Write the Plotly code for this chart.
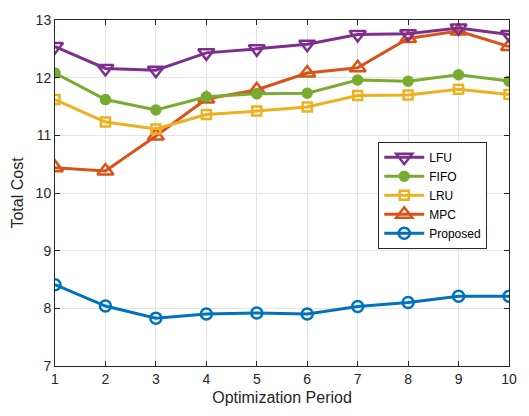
import plotly.graph_objects as go

periods = [1, 2, 3, 4, 5, 6, 7, 8, 9, 10]
lfu = [12.54, 12.16, 12.13, 12.43, 12.50, 12.58, 12.75, 12.76, 12.86, 12.75]
fifo = [12.08, 11.62, 11.44, 11.67, 11.72, 11.73, 11.96, 11.94, 12.05, 11.94]
lru = [11.62, 11.23, 11.11, 11.36, 11.42, 11.49, 11.69, 11.70, 11.80, 11.71]
mpc = [10.44, 10.38, 10.99, 11.63, 11.79, 12.08, 12.17, 12.68, 12.81, 12.54]
proposed = [8.41, 8.04, 7.83, 7.90, 7.92, 7.90, 8.03, 8.10, 8.21, 8.21]

fig = go.Figure()

def add(name, y, color, symbol, size, rank):
    fig.add_trace(go.Scatter(
        x=periods, y=y, name=name, mode="lines+markers",
        line=dict(color=color, width=3),
        marker=dict(symbol=symbol, size=size, color=color,
                    line=dict(color=color, width=2.5)),
        legendrank=rank,
    ))

add("MPC", mpc, "#D95319", "triangle-up-open", 14, 4)
add("LRU", lru, "#EDB120", "square-open", 9, 3)
add("FIFO", fifo, "#77AC30", "circle", 9, 2)
add("LFU", lfu, "#7E2F8E", "triangle-down-open", 14, 1)
add("Proposed", proposed, "#0072BD", "circle-open", 11, 5)

axis_common = dict(
    showgrid=True, gridcolor="#E3E3E3", gridwidth=1,
    showline=True, linecolor="#262626", linewidth=1, mirror="ticks",
    ticks="inside", ticklen=5, tickcolor="#262626",
    tickfont=dict(family="Liberation Sans, Arial", size=14, color="#262626"),
    zeroline=False,
)

fig.update_layout(
    width=529, height=416,
    margin=dict(l=55, r=13, t=12, b=50),
    paper_bgcolor="white", plot_bgcolor="white",
    font=dict(family="Liberation Sans, Arial", color="#262626"),
    showlegend=True,
    legend=dict(
        x=0.712, y=0.648, xanchor="left", yanchor="top",
        bgcolor="white", bordercolor="#262626", borderwidth=1,
        font=dict(family="Liberation Sans, Arial", size=12, color="#000000"),
        tracegroupgap=0,
        itemwidth=40,
    ),
)

fig.update_xaxes(
    range=[1, 10], tickmode="array", tickvals=periods,
    title=dict(text="Optimization Period", font=dict(size=16), standoff=6),
    **axis_common,
)
fig.update_yaxes(
    range=[7, 13], tickmode="array", tickvals=[7, 8, 9, 10, 11, 12, 13],
    title=dict(text="Total Cost", font=dict(size=16), standoff=8),
    **axis_common,
)

fig.write_html("out.html")
